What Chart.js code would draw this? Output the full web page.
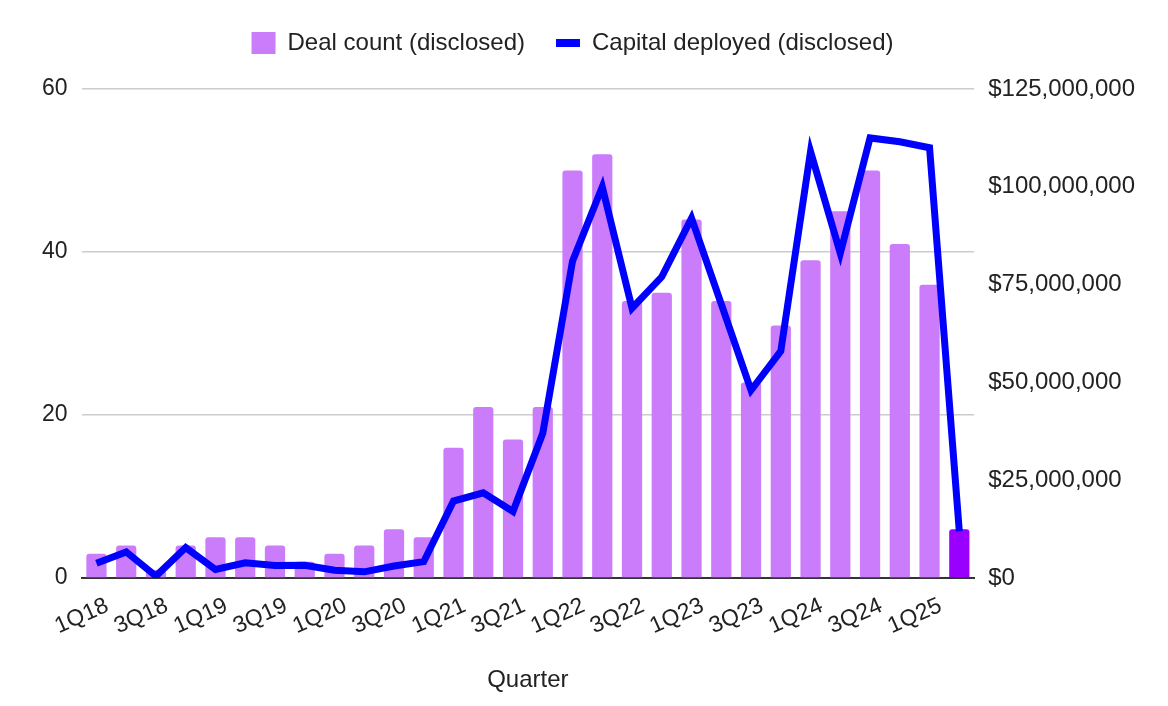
<!DOCTYPE html>
<html>
<head>
<meta charset="utf-8">
<script src="https://cdn.jsdelivr.net/npm/chart.js@4.4.1/dist/chart.umd.min.js"></script>
<style>
    html, body { margin: 0; padding: 0; background: #fff; }
    #wrap { width: 1168px; height: 706px; position: relative; }
</style>
</head>
<body>
<div id="wrap"><canvas id="chart"></canvas></div>
<script>
var quarters = ['1Q18','2Q18','3Q18','4Q18','1Q19','2Q19','3Q19','4Q19','1Q20','2Q20','3Q20','4Q20',
    '1Q21','2Q21','3Q21','4Q21','1Q22','2Q22','3Q22','4Q22','1Q23','2Q23','3Q23','4Q23',
    '1Q24','2Q24','3Q24','4Q24','1Q25','2Q25'];
var dealCount = [3,4,1,4,5,5,4,2,3,4,6,5,16,21,17,21,50,52,34,35,44,34,24,31,39,45,50,41,36,6];
// capital in millions of dollars
var capitalM = [3.8,6.7,0.5,7.8,2.2,3.9,3.2,3.3,2.0,1.6,3.1,4.2,19.7,21.8,17,37,81,100,69,77,92,70,48,58,109,83,112.5,111.5,110,12];
var leftTicks = [0,20,40,60];
var rightTicks = [0,25000000,50000000,75000000,100000000,125000000];

var font = 'Liberation Sans, Arial, sans-serif';
var barColor = '#cb7cfb';
var lastBarColor = '#9900ff';
var lineColor = '#0000ff';

var capital = capitalM.map(function(v){ return v * 1000000; });
var barColors = dealCount.map(function(v, i){
    return i === dealCount.length - 1 ? lastBarColor : barColor;
});

var legendMargin = {
    id: 'legendMargin',
    beforeInit: function(chart){
        var fit = chart.legend.fit;
        chart.legend.fit = function(){
            fit.bind(chart.legend)();
            this.height += 24;
        };
    },
    afterLayout: function(chart){
        // nudge legend a bit left, like the original
        chart.legend.left -= 16;
        chart.legend.right -= 16;
    }
};

var money = function(v){
    return '$' + Math.round(v).toString().replace(/\B(?=(\d{3})+(?!\d))/g, ',');
};

var ctx = document.getElementById('chart');
var chart = new Chart(ctx, {
    data: {
        labels: quarters,
        datasets: [
            {
                type: 'line',
                label: 'Capital deployed (disclosed)',
                data: capital,
                yAxisID: 'yRight',
                borderColor: lineColor,
                backgroundColor: lineColor,
                borderWidth: 7,
                pointRadius: 0,
                borderJoinStyle: 'miter',
                tension: 0,
                order: 0
            },
            {
                type: 'bar',
                label: 'Deal count (disclosed)',
                data: dealCount,
                yAxisID: 'yLeft',
                backgroundColor: barColors,
                borderRadius: 3,
                barPercentage: 0.68,
                categoryPercentage: 1,
                order: 1
            }
        ]
    },
    options: {
        responsive: true,
        maintainAspectRatio: false,
        animation: false,
        devicePixelRatio: 1,
        layout: { padding: { top: 0, left: 28, right: 19, bottom: 7 } },
        plugins: {
            tooltip: { enabled: false },
            legend: {
                position: 'top',
                labels: {
                    font: { family: font, size: 24 },
                    color: '#222',
                    padding: 31,
                    usePointStyle: true,
                    pointStyleWidth: 24,
                    boxHeight: 22,
                    generateLabels: function(c){
                        return [
                            { text: 'Deal count (disclosed)', fillStyle: barColor, strokeStyle: barColor,
                              lineWidth: 0, pointStyle: 'rect', datasetIndex: 1, fontColor: '#222' },
                            { text: 'Capital deployed (disclosed)', fillStyle: lineColor, strokeStyle: lineColor,
                              lineWidth: 8, pointStyle: 'line', datasetIndex: 0, fontColor: '#222' }
                        ];
                    }
                }
            }
        },
        scales: {
            x: {
                type: 'category',
                offset: true,
                grid: { display: false, drawTicks: false },
                border: { display: true, color: '#333', width: 2 },
                ticks: {
                    autoSkip: false,
                    minRotation: 24,
                    maxRotation: 24,
                    padding: 14,
                    labelOffset: 11,
                    color: '#222',
                    font: { family: font, size: 23 },
                    callback: function(v, i){
                        return i % 2 === 0 ? quarters[i] : '';
                    }
                },
                title: {
                    display: true,
                    text: 'Quarter',
                    color: '#222',
                    font: { family: font, size: 24 },
                    padding: { top: 12 }
                }
            },
            yLeft: {
                type: 'linear',
                position: 'left',
                min: leftTicks[0],
                max: leftTicks[leftTicks.length - 1],
                afterBuildTicks: function(axis){
                    axis.ticks = leftTicks.map(function(v){ return { value: v }; });
                },
                border: { display: false },
                grid: {
                    drawTicks: false,
                    lineWidth: 1.5,
                    color: function(c){ return c.tick && c.tick.value === 0 ? 'rgba(0,0,0,0)' : '#cccccc'; }
                },
                ticks: {
                    padding: 14,
                    color: '#222',
                    font: { family: font, size: 23 }
                }
            },
            yRight: {
                type: 'linear',
                position: 'right',
                min: rightTicks[0],
                max: rightTicks[rightTicks.length - 1],
                afterBuildTicks: function(axis){
                    axis.ticks = rightTicks.map(function(v){ return { value: v }; });
                },
                border: { display: false },
                grid: { display: false, drawTicks: false },
                ticks: {
                    padding: 14,
                    color: '#222',
                    font: { family: font, size: 24 },
                    callback: function(v){ return money(v); }
                }
            }
        }
    },
    plugins: [legendMargin]
});
</script>
</body>
</html>
